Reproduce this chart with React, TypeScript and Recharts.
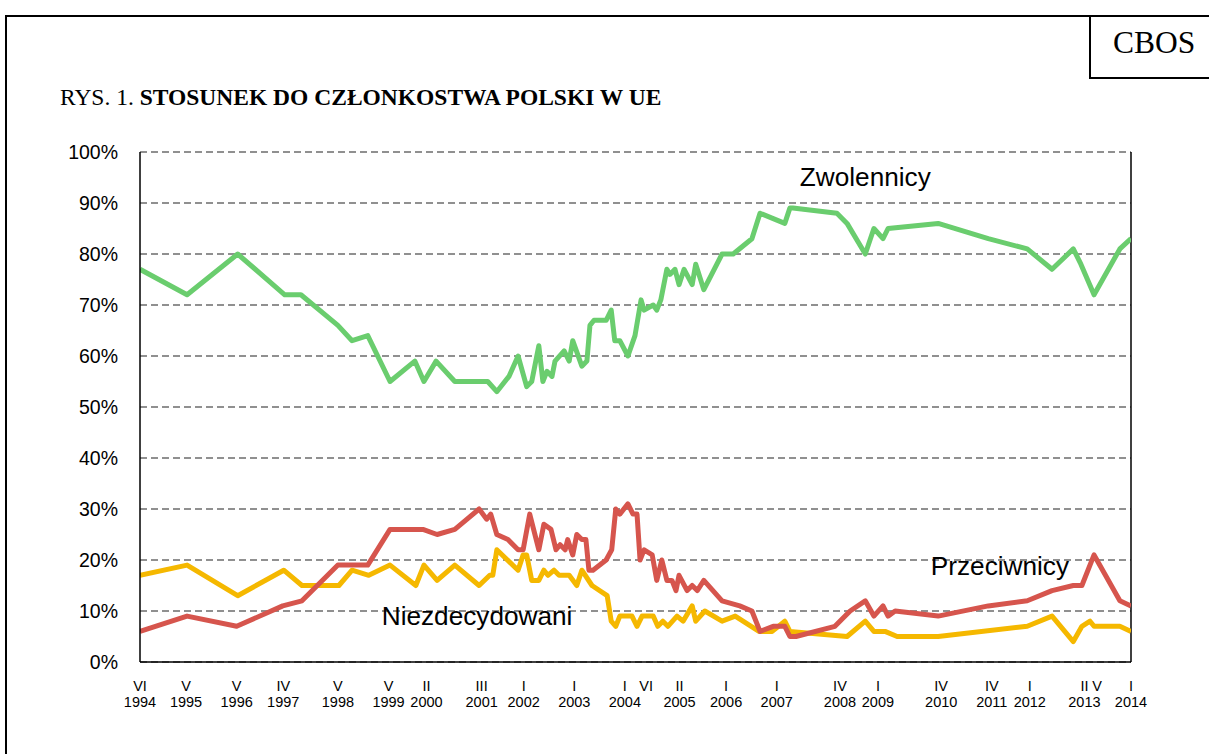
import { LineChart, Line, XAxis, YAxis, CartesianGrid, ReferenceLine, ReferenceDot } from 'recharts';

// survey dates as decimal years, values in percent
const supportDates = [1994.42, 1995.35, 1996.35, 1997.28, 1997.6, 1998.33, 1998.61, 1998.92, 1999.36, 1999.85, 2000.03, 2000.27, 2000.64, 2001.29, 2001.47, 2001.71, 2001.89, 2002.06, 2002.16, 2002.3, 2002.38, 2002.46, 2002.56, 2002.62, 2002.8, 2002.9, 2002.97, 2003.15, 2003.25, 2003.31, 2003.39, 2003.63, 2003.73, 2003.8, 2003.9, 2004.06, 2004.2, 2004.32, 2004.38, 2004.56, 2004.63, 2004.71, 2004.83, 2004.89, 2004.99, 2005.07, 2005.17, 2005.33, 2005.4, 2005.56, 2005.92, 2006.14, 2006.51, 2006.67, 2007.16, 2007.26, 2007.32, 2008.19, 2008.39, 2008.75, 2008.92, 2009.1, 2009.2, 2010.19, 2011.18, 2011.95, 2012.44, 2012.86, 2013.01, 2013.27, 2013.78, 2014.0];
const supportValues = [77, 72, 80, 72, 72, 66, 63, 64, 55, 59, 55, 59, 55, 55, 53, 56, 60, 54, 55, 62, 55, 57, 56, 59, 61, 59, 63, 58, 59, 66, 67, 67, 69, 63, 63, 60, 64, 71, 69, 70, 69, 71, 77, 76, 77, 74, 77, 74, 78, 73, 80, 80, 83, 88, 86, 89, 89, 88, 86, 80, 85, 83, 85, 86, 83, 81, 77, 81, 78, 72, 81, 83];

const againstDates = [1994.42, 1995.35, 1996.33, 1997.24, 1997.62, 1998.33, 1998.92, 1999.36, 2000.01, 2000.29, 2000.64, 2001.12, 2001.27, 2001.35, 2001.47, 2001.69, 2001.89, 2001.99, 2002.12, 2002.3, 2002.4, 2002.54, 2002.64, 2002.72, 2002.82, 2002.87, 2002.97, 2003.05, 2003.15, 2003.23, 2003.29, 2003.37, 2003.63, 2003.74, 2003.82, 2003.9, 2004.06, 2004.16, 2004.24, 2004.3, 2004.38, 2004.54, 2004.63, 2004.73, 2004.83, 2004.93, 2005.01, 2005.07, 2005.23, 2005.33, 2005.43, 2005.56, 2005.92, 2006.27, 2006.51, 2006.67, 2006.93, 2007.16, 2007.26, 2007.38, 2008.15, 2008.45, 2008.75, 2008.92, 2009.1, 2009.2, 2009.34, 2010.19, 2011.18, 2011.95, 2012.44, 2012.86, 2013.03, 2013.27, 2013.78, 2014.0];
const againstValues = [6, 9, 7, 11, 12, 19, 19, 26, 26, 25, 26, 30, 28, 29, 25, 24, 22, 22, 29, 22, 27, 26, 22, 23, 22, 24, 21, 25, 24, 24, 18, 18, 20, 22, 30, 29, 31, 29, 29, 20, 22, 21, 16, 20, 16, 16, 14, 17, 14, 15, 14, 16, 12, 11, 10, 6, 7, 7, 5, 5, 7, 10, 12, 9, 11, 9, 10, 9, 11, 12, 14, 15, 15, 21, 12, 11];

const undecidedDates = [1994.42, 1995.35, 1996.35, 1997.26, 1997.62, 1998.35, 1998.61, 1998.94, 1999.36, 1999.87, 2000.03, 2000.29, 2000.64, 2001.12, 2001.33, 2001.39, 2001.47, 2001.89, 2001.99, 2002.06, 2002.16, 2002.3, 2002.4, 2002.48, 2002.6, 2002.7, 2002.9, 2003.05, 2003.15, 2003.35, 2003.65, 2003.73, 2003.82, 2003.9, 2004.14, 2004.24, 2004.34, 2004.56, 2004.65, 2004.75, 2004.85, 2005.03, 2005.15, 2005.33, 2005.4, 2005.58, 2005.92, 2006.18, 2006.65, 2006.91, 2007.16, 2007.26, 2008.39, 2008.75, 2008.92, 2009.14, 2009.38, 2010.19, 2011.95, 2012.44, 2012.86, 2013.03, 2013.19, 2013.27, 2013.78, 2014.0];
const undecidedValues = [17, 19, 13, 18, 15, 15, 18, 17, 19, 15, 19, 16, 19, 15, 17, 17, 22, 18, 21, 21, 16, 16, 18, 17, 18, 17, 17, 15, 18, 15, 13, 8, 7, 9, 9, 7, 9, 9, 7, 8, 7, 9, 8, 11, 8, 10, 8, 9, 6, 6, 8, 6, 5, 8, 6, 6, 5, 5, 7, 9, 4, 7, 8, 7, 7, 6];

const xTicks = [1994.42, 1995.33, 1996.33, 1997.25, 1998.33, 1999.33, 2000.08, 2001.17, 2002.0, 2003.0, 2004.0, 2004.42, 2005.08, 2006.0, 2007.0, 2008.25, 2009.0, 2010.25, 2011.25, 2012.0, 2013.08, 2013.33, 2014.0];
const tickMonths = ['VI', 'V', 'V', 'IV', 'V', 'V', 'II', 'III', 'I', 'I', 'I', 'VI', 'II', 'I', 'I', 'IV', 'I', 'IV', 'IV', 'I', 'II', 'V', 'I'];
const tickYears = ['1994', '1995', '1996', '1997', '1998', '1999', '2000', '2001', '2002', '2003', '2004', '', '2005', '2006', '2007', '2008', '2009', '2010', '2011', '2012', '2013', '', '2014'];
const yTicks = [0, 10, 20, 30, 40, 50, 60, 70, 80, 90, 100];

const support = supportDates.map((t, i) => ({ t, v: supportValues[i] }));
const against = againstDates.map((t, i) => ({ t, v: againstValues[i] }));
const undecided = undecidedDates.map((t, i) => ({ t, v: undecidedValues[i] }));

const SANS = '"Liberation Sans", Arial, sans-serif';
const SERIF = '"Liberation Serif", "Times New Roman", serif';

const TimeTick = ({ x, y, payload }: any) => {
  const i = xTicks.indexOf(payload.value);
  return (
    <text x={x} y={y} textAnchor="middle" fontSize={14.5} fill="#000" fontFamily={SANS}>
      <tspan x={x} dy={29}>{tickMonths[i]}</tspan>
      <tspan x={x} dy={16}>{tickYears[i]}</tspan>
    </text>
  );
};

const seriesLabel = (text: string) => ({ viewBox }: any) => {
  const cx = viewBox.cx ?? viewBox.x + (viewBox.width || 0) / 2;
  const cy = viewBox.cy ?? viewBox.y + (viewBox.height || 0) / 2;
  return (
    <text x={cx} y={cy} textAnchor="middle" dominantBaseline="central" fontSize={26.2} fill="#000" fontFamily={SANS}>
      {text}
    </text>
  );
};

export default function App() {
  return (
    <div style={{ position: 'absolute', left: 0, top: 0, width: 1209, height: 754, background: '#fff', overflow: 'hidden' }}>
      <div style={{ position: 'absolute', left: 5, top: 15, width: 1260, height: 800, border: '2px solid #000' }} />
      <div style={{ position: 'absolute', left: 1089, top: 15, width: 200, height: 62, borderLeft: '2px solid #000', borderBottom: '2px solid #000' }} />
      <div style={{ position: 'absolute', left: 1113, top: 25, fontFamily: SERIF, fontSize: 31.5, color: '#000' }}>CBOS</div>
      <div style={{ position: 'absolute', left: 60, top: 84, fontFamily: SERIF, fontSize: 23.5, color: '#000', whiteSpace: 'nowrap' }}>
        RYS. 1. <b>STOSUNEK DO CZŁONKOSTWA POLSKI W UE</b>
      </div>
      <div style={{ position: 'absolute', left: 0, top: 0 }}>
        <LineChart width={1209} height={754} margin={{ top: 152, right: 78, bottom: 42, left: 0 }}>
          <CartesianGrid horizontal vertical={false} stroke="#222" strokeDasharray="7 4" strokeWidth={1.2} />
          <XAxis
            dataKey="t"
            type="number"
            domain={[1994.42, 2014.0]}
            ticks={xTicks}
            interval={0}
            height={50}
            tick={<TimeTick />}
            tickLine={false}
            tickSize={0}
            tickMargin={0}
            axisLine={{ stroke: '#000', strokeWidth: 1.5 }}
            allowDataOverflow
          />
          <YAxis
            type="number"
            domain={[0, 100]}
            ticks={yTicks}
            interval={0}
            width={140}
            tickFormatter={(v: number) => `${v}%`}
            tick={{ fontSize: 19.5, fill: '#000', fontFamily: SANS }}
            tickLine={false}
            tickSize={0}
            tickMargin={22}
            axisLine={{ stroke: '#000', strokeWidth: 1.5 }}
          />
          <ReferenceLine x={2014.0} stroke="#000" strokeWidth={1.5} />
          <Line data={undecided} dataKey="v" type="linear" stroke="#F5B800" strokeWidth={5} dot={false} strokeLinejoin="round" isAnimationActive={false} />
          <Line data={against} dataKey="v" type="linear" stroke="#D6554D" strokeWidth={5} dot={false} strokeLinejoin="round" isAnimationActive={false} />
          <Line data={support} dataKey="v" type="linear" stroke="#6ACD6E" strokeWidth={5} dot={false} strokeLinejoin="round" isAnimationActive={false} />
          <ReferenceDot x={2008.75} y={95.1} r={0} fill="none" stroke="none" label={seriesLabel('Zwolennicy')} />
          <ReferenceDot x={2011.41} y={18.8} r={0} fill="none" stroke="none" label={seriesLabel('Przeciwnicy')} />
          <ReferenceDot x={2001.08} y={9.0} r={0} fill="none" stroke="none" label={seriesLabel('Niezdecydowani')} />
        </LineChart>
      </div>
    </div>
  );
}
